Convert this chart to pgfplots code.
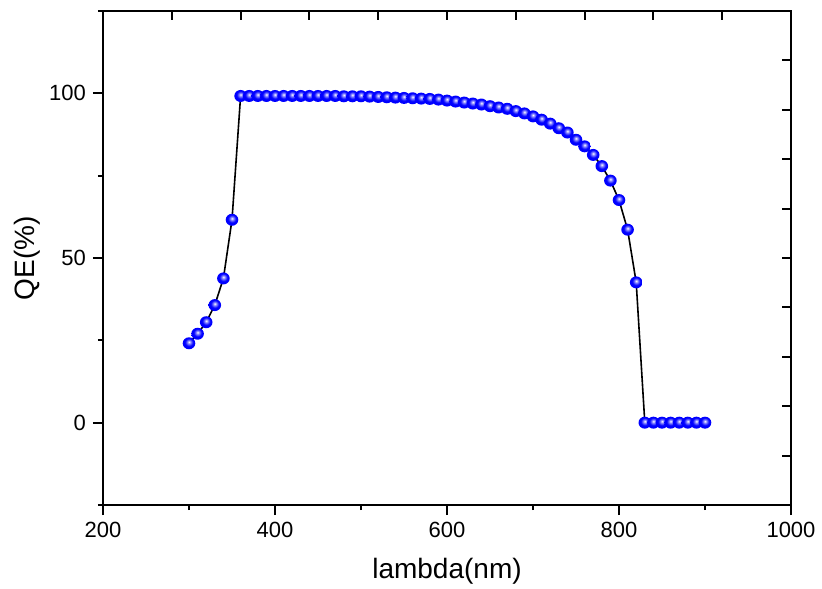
\documentclass[border=0pt]{standalone}
\usepackage{fontspec}
\setmainfont{Liberation Sans}
\usepackage{pgfplots}
\pgfplotsset{compat=1.18}
\usepackage{pgfplotstable}
\pgfdeclareradialshading{bball}{\pgfpoint{0bp}{6bp}}{%
  color(0bp)=(white);
  color(6bp)=(blue!45!white);
  color(16bp)=(blue);
  color(44bp)=(blue);
  color(60bp)=(blue!75!black)}
\pgfdeclareplotmark{bball}{%
  \pgfpathellipse{\pgfpointorigin}{\pgfpoint{1.05\pgfplotmarksize}{0pt}}{\pgfpoint{0pt}{\pgfplotmarksize}}%
  \pgfshadepath{bball}{0}%
  \pgfusepath{discard}%
}
\pgfplotstableread{
x y
300 24.1
310 27.0
320 30.5
330 35.7
340 43.8
350 61.6
360 99.2
370 99.2
380 99.2
390 99.2
400 99.2
410 99.2
420 99.2
430 99.2
440 99.2
450 99.2
460 99.2
470 99.2
480 99.1
490 99.1
500 99.1
510 99.0
520 98.9
530 98.8
540 98.7
550 98.6
560 98.5
570 98.4
580 98.3
590 98.1
600 97.8
610 97.5
620 97.2
630 96.9
640 96.6
650 96.1
660 95.7
670 95.3
680 94.6
690 93.9
700 93.0
710 92.0
720 90.8
730 89.4
740 88.1
750 85.9
760 83.9
770 81.3
780 77.9
790 73.5
800 67.6
810 58.6
820 42.6
830 0
840 0
850 0
860 0
870 0
880 0
890 0
900 0
}\qedata
\begin{document}
\begin{tikzpicture}
\useasboundingbox (-51.5pt,-41.5pt) rectangle (359.5pt,252.5pt);
\begin{axis}[
  at={(0,0)}, anchor=south west,
  scale only axis, width=344pt, height=247pt,
  xmin=200, xmax=1000, ymin=-25, ymax=125,
  axis line style={line width=1.2pt},
  tick style={line width=1pt, black},
  major tick length=5pt, minor tick length=2.5pt,
  tick align=outside, tick pos=left,
  xtick={200,400,...,1000}, minor xtick={300,500,700,900},
  ytick={0,50,100}, minor ytick={-25,25,75,125},
  /pgf/number format/assume math mode=true,
  /pgf/number format/1000 sep={},
  ticklabel style={font=\fontsize{11}{12}\selectfont},
  xlabel={lambda(nm)}, ylabel={QE(\%)},
  label style={font=\fontsize{14}{16}\selectfont},
  xlabel style={at={(axis description cs:0.5,-0.1478)}, anchor=base},
  ylabel style={at={(axis description cs:-0.1105,0.5)}, anchor=center},
]
\addplot[black, line width=0.8pt, mark=bball, mark size=3pt] table[x=x,y=y] {\qedata};
\end{axis}
\begin{axis}[
  at={(0,0)}, anchor=south west,
  scale only axis, width=344pt, height=247pt,
  xmin=200, xmax=1000, ymin=-25, ymax=125,
  axis x line*=top, axis y line*=right,
  axis line style={line width=1.2pt, -},
  tick style={line width=1pt, black},
  major tick length=4.4pt,
  tick align=inside,
  xtick={280,360,...,920}, ytick={-10,5,...,110},
  xticklabels={}, yticklabels={},
  minor tick num=0,
]
\end{axis}
\end{tikzpicture}
\end{document}
